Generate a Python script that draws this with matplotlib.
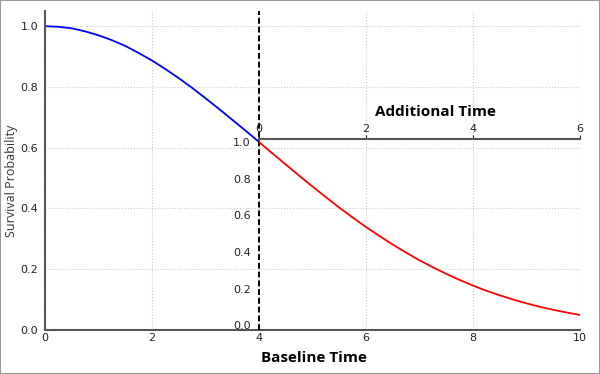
import matplotlib
matplotlib.use("Agg")
import matplotlib.pyplot as plt
from matplotlib.patches import Rectangle

# baseline survival curve
base_t = [0, 0.25, 0.5, 0.75, 1, 1.25, 1.5, 1.75, 2, 2.25, 2.5, 2.75, 3,
          3.25, 3.5, 3.75, 4]
base_s = [1.0, 0.998, 0.993, 0.983, 0.970, 0.954, 0.935, 0.912, 0.887,
          0.859, 0.829, 0.797, 0.763, 0.728, 0.692, 0.656, 0.619]

# conditional survival after t=4, in the inset's own units
add_t = [0, 0.25, 0.5, 0.75, 1, 1.25, 1.5, 1.75, 2, 2.25, 2.5, 2.75, 3,
         3.25, 3.5, 3.75, 4, 4.25, 4.5, 4.75, 5, 5.25, 5.5, 5.75, 6]
add_s = [1.0, 0.938, 0.877, 0.816, 0.757, 0.699, 0.642, 0.588, 0.536,
         0.487, 0.440, 0.396, 0.354, 0.316, 0.280, 0.247, 0.216, 0.188,
         0.163, 0.140, 0.119, 0.100, 0.084, 0.069, 0.056]

x_ticks = [0, 2, 4, 6, 8, 10]
y_ticks = [0.0, 0.2, 0.4, 0.6, 0.8, 1.0]
inset_x_ticks = [0, 2, 4, 6]
cut = 4

plt.rcParams["font.family"] = ["DejaVu Sans"]
fig = plt.figure(figsize=(6, 3.74), dpi=100)
ax = fig.add_axes([0.075, 0.1176, 0.8917, 0.853])

ax.plot(base_t, base_s, color="blue", lw=1.3)
ax.axvline(cut, color="black", ls=(0, (3, 1.5)), lw=1.4, zorder=5)

ax.set_xlim(0, 10)
ax.set_ylim(0, 1.05)
ax.set_xticks(x_ticks)
ax.set_yticks(y_ticks)
ax.grid(True, ls=":", color="#c8c8c8", lw=0.8)
for side in ("top", "right"):
    ax.spines[side].set_visible(False)
for side in ("left", "bottom"):
    ax.spines[side].set_color("#555555")
    ax.spines[side].set_linewidth(1.5)
ax.tick_params(axis="both", direction="in", length=0, labelsize=8, colors="#222222")
ax.tick_params(axis="y", pad=5)
ax.tick_params(axis="x", pad=2)

ax.set_xlabel("Baseline Time", family="Open Sans", fontweight="bold", fontsize=11)
ax.xaxis.label.set_va("center")
ax.xaxis.set_label_coords(0.503, -0.088)
ax.set_ylabel("Survival Probability", family="Open Sans", fontsize=9, color="#333333")
ax.yaxis.label.set_va("center")
ax.yaxis.set_label_coords(-0.062, 0.467)

# inset for the additional time, placed in baseline data units
ins = ax.inset_axes([cut, 0.016, 6, 0.612], transform=ax.transData)
ins.patch.set_alpha(0)
ins.plot(add_t, add_s, color="red", lw=1.3)
ins.set_xlim(0, 6)
ins.set_ylim(0, 1.015)
ins.set_xticks(inset_x_ticks)
ins.set_yticks(y_ticks)
ins.xaxis.tick_top()
for side in ("left", "right", "bottom"):
    ins.spines[side].set_visible(False)
ins.spines["top"].set_color("#555555")
ins.spines["top"].set_linewidth(1.5)
ins.tick_params(axis="x", direction="out", length=3, pad=1, labelsize=8,
                colors="#222222")
ins.tick_params(axis="y", length=0, pad=6, labelsize=8, colors="#222222")
ins.text(0.551, 1.146, "Additional Time", transform=ins.transAxes,
         ha="center", va="center", family="Open Sans", fontweight="bold",
         fontsize=11)

fig.patches.append(Rectangle((0, 0), 1, 1, transform=fig.transFigure,
                             fill=False, edgecolor="#999999", lw=1.5))

fig.savefig("out.png", dpi=100)
